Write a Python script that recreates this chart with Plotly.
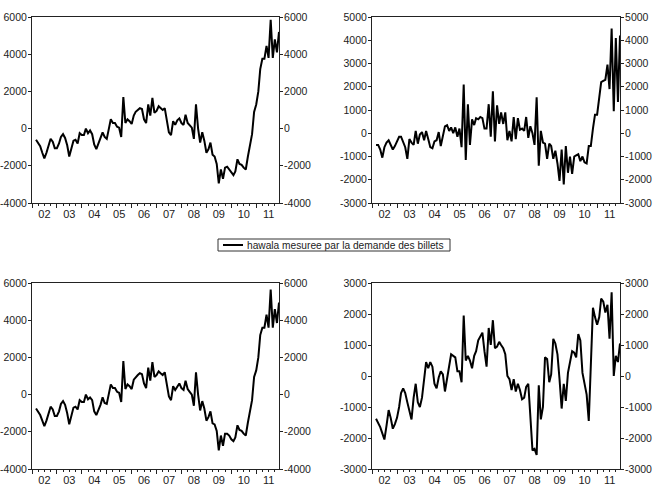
import pandas as pd
import plotly.graph_objects as go

# monthly observations, 2002m03 - 2011m12 (first two months are NA)
months = pd.date_range("2002-03-01", "2011-12-01", freq="MS")

hawala_top_left = [
    -600, -750, -950, -1300, -1600, -1300, -900, -550, -700, -1050,
    -1050, -800, -450, -300, -500, -900, -1500, -1000, -650, -600,
    -800, -250, -350, -350, 0, -250, -100, -300, -850, -1100,
    -800, -500, -200, -450, -550, 0, 500, 300, 300, 100,
    50, -450, 1700, 300, 500, 400, 250, 700, 900, 1000,
    1100, 1050, 500, 300, 1300, 700, 1650, 850, 950, 1200,
    1100, 1000, 1100, 400, -200, -350, 400, 200, 450, 550,
    300, 200, 750, 300, 150, 50, -550, 1300, 0, -750,
    -200, -650, -1300, -1100, -750, -1400, -1500, -1900, -2950, -2200,
    -2700, -2100, -2050, -2200, -2400, -2500, -2300, -1650, -1900, -1950,
    -2100, -2200, -1500, -1000, -300, 900, 1300, 2000, 3200, 3750,
    3750, 4450, 3800, 5850, 3800, 4800, 4100, 5200,
]

hawala_top_right = [
    -500, -500, -700, -1050, -600, -400, -300, -500, -700, -550,
    -350, -150, -150, -350, -600, -1100, -250, -400, -500, 100,
    -450, -50, 50, -300, 100, -250, -600, -650, -350, -300,
    50, -550, -100, 300, 350, 100, 250, 0, 250, -150,
    200, -600, 2100, -1150, 1250, -500, 600, 350, 650, 600,
    700, 650, 200, 200, 1250, -150, 1800, -350, 1200, 400,
    900, 400, 900, -300, 100, -350, 700, -250, 650, 150,
    200, 100, 700, -200, 300, 0, -500, 1550, -1400, 100,
    -400, -450, -1100, -450, -550, -1100, -750, -1300, -2050, -700,
    -2200, -550, -1700, -1000, -1750, -1000, -950, -900, -1200, -1000,
    -1250, -1300, -550, -550, 200, 800, 800, 1500, 2200, 2250,
    2300, 2950, 1900, 4500, 950, 4100, 1350, 4200,
]

hawala_bottom_left = [
    -750, -900, -1100, -1400, -1700, -1400, -1000, -650, -800, -1150,
    -1150, -900, -500, -350, -550, -1000, -1600, -1100, -700, -650,
    -800, -300, -400, -400, 0, -250, -150, -300, -900, -1100,
    -850, -550, -150, -450, -500, 0, 550, 350, 350, 150,
    100, -400, 1800, 300, 550, 450, 300, 800, 950, 1050,
    1150, 1100, 600, 350, 1450, 750, 1750, 950, 1050, 1250,
    1150, 1050, 1200, 450, -100, -300, 450, 250, 450, 600,
    350, 250, 750, 300, 150, 0, -600, 1200, 0, -850,
    -350, -750, -1400, -1200, -900, -1550, -1600, -1950, -3000, -2200,
    -2750, -2100, -2100, -2200, -2400, -2500, -2300, -1650, -1900, -1950,
    -2100, -2200, -1500, -1000, -300, 950, 1300, 2000, 3200, 3600,
    3600, 4300, 3600, 5650, 3600, 4600, 3850, 4950,
]

hawala_bottom_right = [
    -1380, -1500, -1650, -1850, -2050, -1600, -1100, -1350, -1700, -1550,
    -1350, -1000, -550, -400, -550, -850, -1100, -1400, -700, -250,
    -850, -1000, -700, 0, 450, 250, 450, 300, -250, -400,
    -50, 150, 50, -500, -100, 300, 700, 650, 600, 150,
    150, -200, 1950, 500, 650, 500, 250, 650, 800, 1150,
    1300, 1400, 800, 300, 1550, 1000, 1800, 900, 950, 1100,
    1000, 900, 700, 0, -100, -450, -100, -500, -250, -450,
    -750, -700, -350, -250, -1300, -2400, -2350, -2550, -300, -1400,
    -1000, 600, 550, -200, 50, 1200, 1050, 700, -100, -1050,
    -250, -800, 100, 450, 800, 750, 600, 1350, 1150, 100,
    -250, -600, -1450, 300, 2200, 1900, 1650, 1900, 2500, 2400,
    2050, 2300, 1200, 2700, 0, 650, 450, 1050,
]

ticks_6000 = [-4000, -2000, 0, 2000, 4000, 6000]
ticks_5000 = [-3000, -2000, -1000, 0, 1000, 2000, 3000, 4000, 5000]
ticks_3000 = [-3000, -2000, -1000, 0, 1000, 2000, 3000]
legend_label = "hawala mesuree par la demande des billets"

W, H = 654, 491
FONT = dict(family="Liberation Sans, Arial, sans-serif", size=10.5, color="#222")
AXCOL = "#222"

# panel boxes in pixels: (left, right, top, bottom)
panels = [
    (hawala_top_left, ticks_6000, (32, 279, 17, 203)),
    (hawala_top_right, ticks_5000, (372, 620, 17, 203)),
    (hawala_bottom_left, ticks_6000, (32, 279, 283, 469)),
    (hawala_bottom_right, ticks_3000, (372, 620, 283, 469)),
]

fig = go.Figure()
layout = {}
for i, (vals, ticks, (l, r, t, b)) in enumerate(panels, start=1):
    xa, ya, yr = f"x{i}", f"y{i}", f"y{i + 4}"
    fig.add_trace(go.Scatter(x=months, y=vals, mode="lines", xaxis=xa, yaxis=ya,
                             line=dict(color="black", width=2), showlegend=False,
                             hoverinfo="skip"))
    # same series on the right-hand scale (invisible) so that axis is drawn
    fig.add_trace(go.Scatter(x=months, y=vals, mode="lines", xaxis=xa, yaxis=yr,
                             line=dict(color="rgba(0,0,0,0)", width=0), showlegend=False,
                             hoverinfo="skip"))
    tick_text = [str(v) for v in ticks]  # plain hyphen for negatives, like the source
    layout[f"xaxis{i}"] = dict(
        domain=[l / W, r / W], anchor=ya, range=["2002-01-01", "2011-12-01"],
        showline=True, linecolor=AXCOL, linewidth=1, mirror=True, automargin=False,
        ticks="outside", ticklen=4, tickcolor=AXCOL, dtick="M12", tick0="2002-01-01",
        tickformat="%y", ticklabelmode="period", ticklabelstandoff=-3,
        showgrid=False, zeroline=False, tickfont=dict(FONT, size=11),
        minor=dict(ticks="outside", ticklen=2, dtick="M3", tick0="2002-01-01",
                   tickcolor=AXCOL, showgrid=False),
    )
    common = dict(range=[ticks[0], ticks[-1]], tickvals=ticks, ticktext=tick_text,
                  showline=True, linecolor=AXCOL, linewidth=1, ticks="outside",
                  ticklen=3, tickcolor=AXCOL, showgrid=False, zeroline=False,
                  automargin=False, ticklabelstandoff=-1)
    layout[f"yaxis{i}"] = dict(domain=[1 - b / H, 1 - t / H], anchor=xa, side="left", **common)
    layout[f"yaxis{i + 4}"] = dict(overlaying=ya, anchor=xa, side="right", **common)

# legend drawn as a small boxed key between the rows
lx0, lx1, ly0, ly1 = 218, 450, 239, 251
shapes = [
    dict(type="rect", xref="paper", yref="paper", x0=lx0 / W, x1=lx1 / W,
         y0=1 - ly1 / H, y1=1 - ly0 / H, line=dict(color="#333", width=1)),
    dict(type="line", xref="paper", yref="paper", x0=223 / W, x1=243 / W,
         y0=1 - 245 / H, y1=1 - 245 / H, line=dict(color="black", width=2)),
]
annotations = [
    dict(text=legend_label, xref="paper", yref="paper", x=245 / W, y=1 - 245 / H,
         xanchor="left", yanchor="middle", showarrow=False,
         font=dict(FONT, size=10.2)),
]

fig.update_layout(
    width=W, height=H, margin=dict(l=0, r=0, t=0, b=0, autoexpand=False),
    paper_bgcolor="white", plot_bgcolor="white", font=FONT,
    shapes=shapes, annotations=annotations, **layout,
)

# drop the browser's default body margin so the figure sits at the window's corner
fig.write_html("out.html", config={"displayModeBar": False},
               post_script="document.body.style.margin='0';")
